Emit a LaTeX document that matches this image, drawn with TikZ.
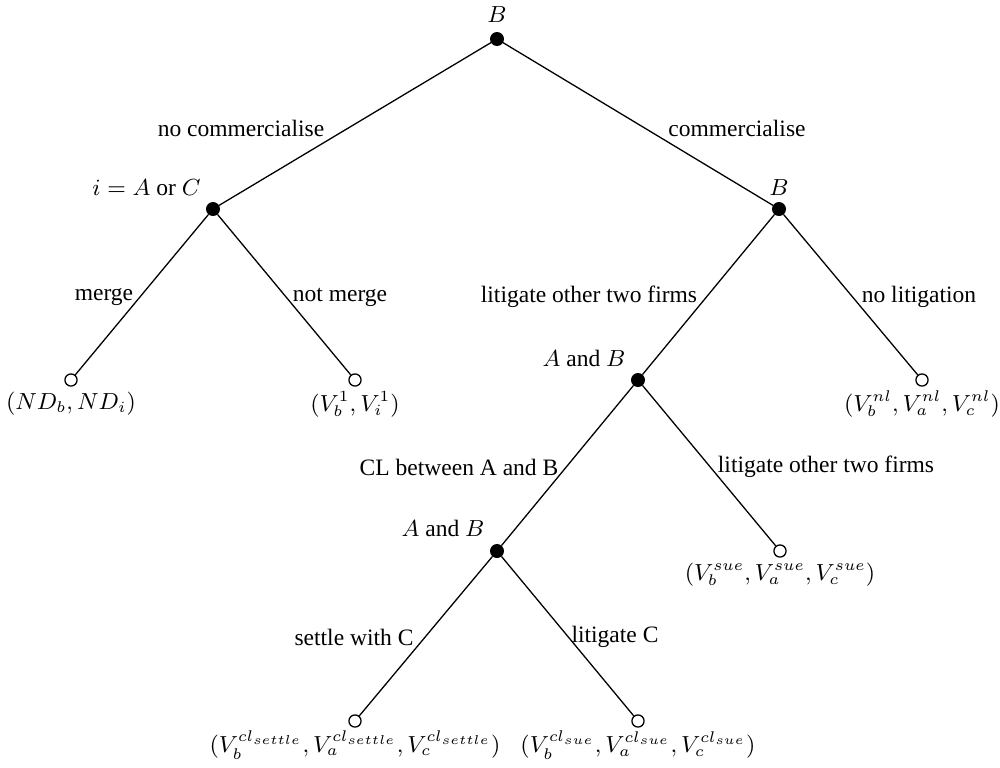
\documentclass[tikz,border=0pt]{standalone}
\usepackage{fontspec}
\setmainfont{Liberation Serif}
\begin{document}
\begin{tikzpicture}[x=0.387pt,y=-0.387pt,
  dec/.style={circle,fill=black,draw=black,inner sep=0pt,minimum size=5pt},
  leaf/.style={circle,fill=white,draw=black,line width=0.5pt,inner sep=0pt,minimum size=4.7pt},
  edge/.style={draw=black,line width=0.5pt},
  lbl/.style={inner sep=0pt,font=\fontsize{9.1}{11}\selectfont},
  pay/.style={inner sep=0pt,font=\fontsize{9.1}{11}\selectfont}]
\useasboundingbox (0,0) rectangle (1000,767);
% decision nodes
\node[dec] (r) at (497,39) {};
\node[dec] (l) at (213,209) {};
\node[dec] (rb) at (779,209) {};
\node[dec] (ab1) at (638,380) {};
\node[dec] (ab2) at (497,551) {};
% leaves
\node[leaf] (l1) at (71,380) {};
\node[leaf] (l2) at (355,380) {};
\node[leaf] (l3) at (922,380) {};
\node[leaf] (l4) at (780,551) {};
\node[leaf] (l5) at (355,721) {};
\node[leaf] (l6) at (638,721) {};
% edges
\draw[edge] (r) -- (l);
\draw[edge] (r) -- (rb);
\draw[edge] (l) -- (l1);
\draw[edge] (l) -- (l2);
\draw[edge] (rb) -- (ab1);
\draw[edge] (rb) -- (l3);
\draw[edge] (ab1) -- (ab2);
\draw[edge] (ab1) -- (l4);
\draw[edge] (ab2) -- (l5);
\draw[edge] (ab2) -- (l6);
% player labels
\node[lbl] (tr) at (497,15) {$B$};
\node[lbl,anchor=east] (tl) at (201,188) {$i=A$ or $C$};
\node[lbl] (trb) at (779,188) {$B$};
\node[lbl,anchor=east] (tab1) at (626,358) {$A$ and $B$};
\node[lbl,anchor=east] (tab2) at (485,528) {$A$ and $B$};
% edge labels
\node[lbl] (e1) at (241,128) {no commercialise};
\node[lbl] (e2) at (737,128) {commercialise};
\node[lbl] (e3) at (104,297) {merge};
\node[lbl] (e4) at (340,297) {not merge};
\node[lbl] (e5) at (589,297) {litigate other two firms};
\node[lbl] (e6) at (919,297) {no litigation};
\node[lbl] (e7) at (459,467) {CL between A and B};
\node[lbl] (e8) at (826,467) {litigate other two firms};
\node[lbl] (e9) at (354,637) {settle with C};
\node[lbl] (e10) at (615,637) {litigate C};
% payoffs
\node[pay] (p1) at (71,404) {$(ND_b,ND_i)$};
\node[pay] (p2) at (355,404) {$(V_b^1,V_i^1)$};
\node[pay] (p3) at (922,404) {$(V_b^{nl},V_a^{nl},V_c^{nl})$};
\node[pay] (p4) at (780,575) {$(V_b^{sue},V_a^{sue},V_c^{sue})$};
\node[pay] (p5) at (355,745) {$(V_b^{cl_{settle}},V_a^{cl_{settle}},V_c^{cl_{settle}})$};
\node[pay] (p6) at (638,745) {$(V_b^{cl_{sue}},V_a^{cl_{sue}},V_c^{cl_{sue}})$};
\end{tikzpicture}
\end{document}
